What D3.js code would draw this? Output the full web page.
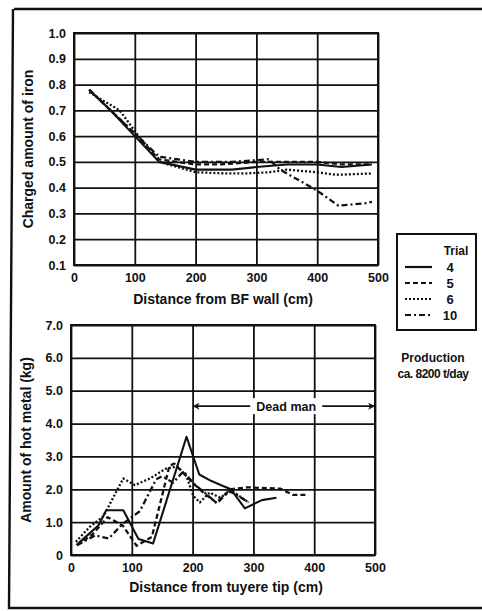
<!DOCTYPE html>
<html><head><meta charset="utf-8">
<script src="https://cdn.jsdelivr.net/npm/d3@7/dist/d3.min.js"></script>
<style>
html,body{margin:0;padding:0;background:#fff;}
svg{display:block;font-family:"Liberation Sans",Arial,sans-serif;}
</style></head><body>
<svg id="c" width="482" height="611"></svg>
<script>
// ---- data ----
const trials = ["4", "5", "6", "10"];
const topXTicks = [0, 100, 200, 300, 400, 500];
const topYTicks = [0.1, 0.2, 0.3, 0.4, 0.5, 0.6, 0.7, 0.8, 0.9, 1.0];
const botXTicks = [0, 100, 200, 300, 400, 500];
const botYTicks = [0, 1, 2, 3, 4, 5, 6, 7];

const ironTrial4  = [[25,0.78],[60,0.70],[100,0.60],[140,0.50],[200,0.47],[260,0.47],[300,0.48],[350,0.49],[400,0.49],[440,0.48],[490,0.49]];
const ironTrial5  = [[25,0.78],[100,0.61],[140,0.51],[200,0.49],[240,0.49],[300,0.50],[340,0.50],[400,0.50],[440,0.49],[490,0.49]];
const ironTrial6  = [[25,0.77],[75,0.70],[100,0.62],[140,0.50],[200,0.46],[240,0.456],[280,0.455],[322,0.46],[350,0.47],[399,0.46],[432,0.45],[490,0.455]];
const ironTrial10 = [[25,0.78],[100,0.61],[140,0.52],[200,0.50],[260,0.50],[320,0.51],[339,0.47],[399,0.39],[435,0.33],[481,0.34],[490,0.345]];

const metalTrial4  = [[9,0.30],[30,0.65],[45,0.90],[58,1.36],[86,1.36],[111,0.49],[135,0.35],[190,3.6],[211,2.45],[231,2.25],[250,2.10],[263,2.00],[286,1.42],[314,1.67],[338,1.74]];
const metalTrial5  = [[10,0.30],[35,0.62],[60,1.15],[85,0.90],[108,0.28],[133,0.55],[162,2.72],[170,2.78],[200,2.20],[220,1.86],[239,1.60],[262,2.00],[290,2.06],[344,2.02],[365,1.83],[388,1.83]];
const metalTrial6  = [[8,0.40],[31,0.86],[53,1.17],[86,2.33],[105,2.13],[130,2.33],[155,2.62],[175,2.70],[190,2.40],[201,1.80],[212,1.60],[228,1.90],[245,1.75],[265,1.95],[292,1.60]];
const metalTrial10 = [[10,0.30],[40,0.60],[62,0.50],[85,0.95],[113,1.33],[140,2.30],[150,2.40],[168,2.20],[185,2.55],[203,2.15],[218,1.93],[240,1.57],[260,1.95],[275,1.80],[292,1.60]];

const ironSeries  = [ironTrial4, ironTrial5, ironTrial6, ironTrial10];
const metalSeries = [metalTrial4, metalTrial5, metalTrial6, metalTrial10];
const dashes = [null, "5,3", "2,2", "6,3,2,3"];

// ---- drawing ----
const svg = d3.select("#c");
const ink = "#111";

// outer frame
svg.append("path").attr("d","M14,9 L482,9 M13,9 L9,608 L482,608")
  .attr("fill","none").attr("stroke",ink).attr("stroke-width",2.4);

function panel(cfg){
  const x = d3.scaleLinear().domain([0,500]).range([cfg.x0,cfg.x1]);
  const y = d3.scaleLinear().domain(cfg.ydom).range([cfg.y0,cfg.y1]);
  const g = svg.append("g");
  // grid
  g.append("g").attr("transform",`translate(0,${cfg.y0})`)
    .call(d3.axisBottom(x).tickValues(cfg.xt).tickSize(-(cfg.y0-cfg.y1)).tickFormat(""))
    .call(s=>{s.select(".domain").remove();s.selectAll("line").attr("stroke",ink).attr("stroke-width",1.8);});
  g.append("g").attr("transform",`translate(${cfg.x0},0)`)
    .call(d3.axisLeft(y).tickValues(cfg.yt).tickSize(-(cfg.x1-cfg.x0)).tickFormat(""))
    .call(s=>{s.select(".domain").remove();s.selectAll("line").attr("stroke",ink).attr("stroke-width",1.8);});
  g.append("rect").attr("x",cfg.x0).attr("y",cfg.y1).attr("width",cfg.x1-cfg.x0).attr("height",cfg.y0-cfg.y1)
    .attr("fill","none").attr("stroke",ink).attr("stroke-width",2);
  // tick labels
  g.append("g").attr("transform",`translate(0,${cfg.y0+5})`)
    .call(d3.axisBottom(x).tickValues(cfg.xt).tickSize(0).tickFormat(d3.format("d")))
    .call(s=>{s.select(".domain").remove();s.selectAll("text").attr("fill",ink).attr("font-size",12.5).attr("font-weight","bold").attr("font-family","Liberation Sans, Arial");});
  g.append("g").attr("transform",`translate(${cfg.x0-5},0)`)
    .call(d3.axisLeft(y).tickValues(cfg.yt).tickSize(0).tickFormat(cfg.yfmt))
    .call(s=>{s.select(".domain").remove();s.selectAll("text").attr("fill",ink).attr("font-size",12.5).attr("font-weight","bold").attr("font-family","Liberation Sans, Arial");});
  // lines
  const line = d3.line().x(d=>x(d[0])).y(d=>y(d[1]));
  cfg.series.forEach((s,i)=>{
    g.append("path").attr("d",line(s)).attr("fill","none").attr("stroke",ink)
      .attr("stroke-width",i===0?2.1:2.3).attr("stroke-dasharray",dashes[i]).attr("stroke-linejoin","round");
  });
  // titles
  g.append("text").attr("x",(cfg.x0+cfg.x1)/2+cfg.xtDx).attr("y",cfg.xtY).attr("text-anchor","middle")
    .attr("font-size",14).attr("font-weight","bold").attr("fill",ink).text(cfg.xtitle);
  g.append("text").attr("transform",`translate(${cfg.ytX},${(cfg.y0+cfg.y1)/2}) rotate(-90)`).attr("text-anchor","middle")
    .attr("font-size",14).attr("fill",ink).attr("font-weight","bold").text(cfg.ytitle);
  return {x,y,g};
}

panel({x0:74,x1:378,y0:265,y1:33,ydom:[0.1,1.0],xt:topXTicks,yt:topYTicks,yfmt:d3.format(".1f"),
  series:ironSeries,xtitle:"Distance from BF wall (cm)",xtY:304,xtDx:-3,ytitle:"Charged amount of iron",ytX:33});

const bot = panel({x0:71,x1:375,y0:555,y1:325,ydom:[0,7],xt:botXTicks,yt:botYTicks,yfmt:d=>d===0?"0":d3.format(".1f")(d),
  series:metalSeries,xtitle:"Distance from tuyere tip (cm)",xtY:592,xtDx:3,ytitle:"Amount of hot metal (kg)",ytX:31});

// Dead man arrow
const defs = svg.append("defs");
defs.append("marker").attr("id","ah").attr("viewBox","0 0 10 10").attr("refX",10).attr("refY",5)
  .attr("markerWidth",9).attr("markerHeight",7).attr("orient","auto-start-reverse").attr("markerUnits","userSpaceOnUse")
  .append("path").attr("d","M0,0 L10,5 L0,10 L3,5 Z").attr("fill",ink);
const ay = bot.y(4.53);
const tx = bot.x(354);
bot.g.append("rect").attr("x",tx-34).attr("y",ay-8).attr("width",68).attr("height",16).attr("fill","#fff");
bot.g.append("line").attr("x1",bot.x(200)).attr("x2",tx-36).attr("y1",ay).attr("y2",ay)
  .attr("stroke",ink).attr("stroke-width",1.6).attr("marker-start","url(#ah)");
bot.g.append("line").attr("x1",tx+36).attr("x2",bot.x(500)).attr("y1",ay).attr("y2",ay)
  .attr("stroke",ink).attr("stroke-width",1.6).attr("marker-end","url(#ah)");
bot.g.append("text").attr("x",tx).attr("y",ay+4.5).attr("text-anchor","middle").attr("font-size",12.5)
  .attr("font-weight","bold").attr("fill",ink).text("Dead man");

// legend
const lg = svg.append("g");
lg.append("rect").attr("x",397).attr("y",234).attr("width",79).attr("height",96)
  .attr("fill","#fff").attr("stroke",ink).attr("stroke-width",2);
lg.append("text").attr("x",456).attr("y",255).attr("text-anchor","middle").attr("font-size",12)
  .attr("font-weight","bold").attr("fill",ink).text("Trial");
trials.forEach((t,i)=>{
  const yy = 267 + i*16;
  lg.append("line").attr("x1",405).attr("x2",432).attr("y1",yy).attr("y2",yy).attr("stroke",ink)
    .attr("stroke-width",2.2).attr("stroke-dasharray",dashes[i]);
  lg.append("text").attr("x",450).attr("y",yy+4.5).attr("text-anchor","middle").attr("font-size",13)
    .attr("font-weight","bold").attr("fill",ink).text(t);
});
svg.append("text").attr("x",433).attr("y",362).attr("text-anchor","middle").attr("font-size",12)
  .attr("font-weight","bold").attr("fill",ink).text("Production");
svg.append("text").attr("x",433).attr("y",378).attr("text-anchor","middle").attr("font-size",12)
  .attr("font-weight","bold").attr("fill",ink).attr("letter-spacing",-0.5).text("ca. 8200 t/day");
</script></body></html>
